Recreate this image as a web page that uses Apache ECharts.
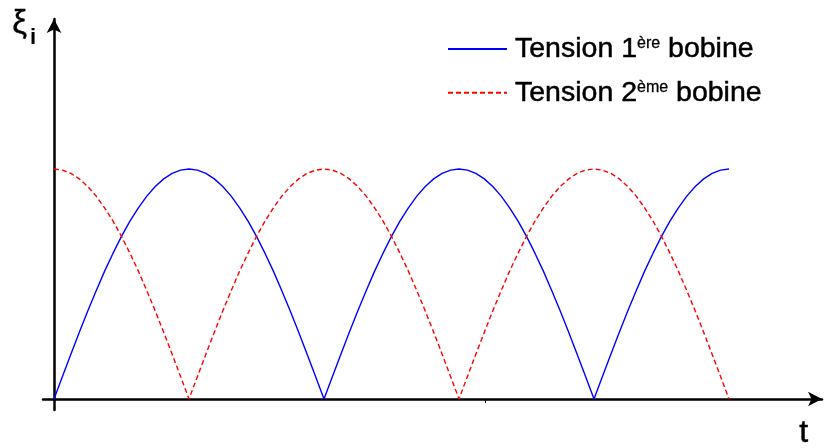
<!DOCTYPE html>
<html>
<head>
<meta charset="utf-8">
<script src="https://cdn.jsdelivr.net/npm/echarts@6/dist/echarts.min.js"></script>
<style>
  html, body { margin: 0; padding: 0; background: #fff; }
  #chart { width: 825px; height: 448px; }
</style>
</head>
<body>
<div id="chart"></div>
<script>
// Time axis in half-periods, sampled every 1/32 of a half-period
const t = [
  0, 0.03125, 0.0625, 0.09375, 0.125, 0.15625, 0.1875, 0.21875, 0.25, 0.28125, 0.3125, 0.34375, 0.375, 0.40625, 0.4375, 0.46875,
  0.5, 0.53125, 0.5625, 0.59375, 0.625, 0.65625, 0.6875, 0.71875, 0.75, 0.78125, 0.8125, 0.84375, 0.875, 0.90625, 0.9375, 0.96875,
  1, 1.03125, 1.0625, 1.09375, 1.125, 1.15625, 1.1875, 1.21875, 1.25, 1.28125, 1.3125, 1.34375, 1.375, 1.40625, 1.4375, 1.46875,
  1.5, 1.53125, 1.5625, 1.59375, 1.625, 1.65625, 1.6875, 1.71875, 1.75, 1.78125, 1.8125, 1.84375, 1.875, 1.90625, 1.9375, 1.96875,
  2, 2.03125, 2.0625, 2.09375, 2.125, 2.15625, 2.1875, 2.21875, 2.25, 2.28125, 2.3125, 2.34375, 2.375, 2.40625, 2.4375, 2.46875,
  2.5
];

// Rectified voltage of the first coil (relative to peak)
const bobine1 = [
  0, 0.098, 0.195, 0.290, 0.383, 0.471, 0.556, 0.634, 0.707, 0.773, 0.831, 0.882, 0.924, 0.957, 0.981, 0.995,
  1, 0.995, 0.981, 0.957, 0.924, 0.882, 0.831, 0.773, 0.707, 0.634, 0.556, 0.471, 0.383, 0.290, 0.195, 0.098,
  0, 0.098, 0.195, 0.290, 0.383, 0.471, 0.556, 0.634, 0.707, 0.773, 0.831, 0.882, 0.924, 0.957, 0.981, 0.995,
  1, 0.995, 0.981, 0.957, 0.924, 0.882, 0.831, 0.773, 0.707, 0.634, 0.556, 0.471, 0.383, 0.290, 0.195, 0.098,
  0, 0.098, 0.195, 0.290, 0.383, 0.471, 0.556, 0.634, 0.707, 0.773, 0.831, 0.882, 0.924, 0.957, 0.981, 0.995,
  1
];

// Rectified voltage of the second coil (relative to peak)
const bobine2 = [
  1, 0.995, 0.981, 0.957, 0.924, 0.882, 0.831, 0.773, 0.707, 0.634, 0.556, 0.471, 0.383, 0.290, 0.195, 0.098,
  0, 0.098, 0.195, 0.290, 0.383, 0.471, 0.556, 0.634, 0.707, 0.773, 0.831, 0.882, 0.924, 0.957, 0.981, 0.995,
  1, 0.995, 0.981, 0.957, 0.924, 0.882, 0.831, 0.773, 0.707, 0.634, 0.556, 0.471, 0.383, 0.290, 0.195, 0.098,
  0, 0.098, 0.195, 0.290, 0.383, 0.471, 0.556, 0.634, 0.707, 0.773, 0.831, 0.882, 0.924, 0.957, 0.981, 0.995,
  1, 0.995, 0.981, 0.957, 0.924, 0.882, 0.831, 0.773, 0.707, 0.634, 0.556, 0.471, 0.383, 0.290, 0.195, 0.098,
  0
];

const seriesNames = ['Tension 1ère bobine', 'Tension 2ème bobine'];
const legendParts = {
  'Tension 1ère bobine': ['Tension 1', 'ère', ' bobine'],
  'Tension 2ème bobine': ['Tension 2', 'ème', ' bobine']
};
const xTicks = [1.596];

const pair = (ys) => t.map((x, i) => [x, ys[i]]);

const chart = echarts.init(document.getElementById('chart'), null, { renderer: 'canvas' });
const font = '"Liberation Sans", Arial, sans-serif';

// pixel layout: origin at (54, 399), half-period = 270 px, peak = 230 px
chart.setOption({
  animation: false,
  backgroundColor: '#ffffff',
  grid: { left: 43, right: 3, top: 19, bottom: 38, containLabel: false },
  xAxis: {
    type: 'value',
    min: -11 / 270,
    max: 768 / 270,
    splitLine: { show: false },
    axisLabel: { show: false },
    axisLine: {
      onZero: true,
      symbol: ['none', 'arrow'],
      symbolSize: [11, 14],
      lineStyle: { color: '#000', width: 2.5 }
    },
    axisTick: { show: true, customValues: xTicks, length: 4, lineStyle: { color: '#000', width: 1 } }
  },
  yAxis: {
    type: 'value',
    min: -11 / 230,
    max: 380 / 230,
    splitLine: { show: false },
    axisLabel: { show: false },
    axisTick: { show: false },
    axisLine: {
      onZero: true,
      symbol: ['none', 'arrow'],
      symbolSize: [11, 14],
      lineStyle: { color: '#000', width: 2.5 }
    }
  },
  legend: {
    orient: 'vertical',
    left: 447,
    top: 33,
    padding: 0,
    itemWidth: 59,
    itemHeight: 14,
    itemGap: 13,
    itemStyle: { opacity: 0 },
    data: seriesNames,
    formatter: (name) => {
      const p = legendParts[name];
      return '{a|' + p[0] + '}{s|' + p[1] + '}{a|' + p[2] + '}';
    },
    textStyle: {
      padding: [0, 0, 0, 3],
      rich: {
        a: { fontFamily: font, fontSize: 28.5, color: '#000', lineHeight: 32, textBorderColor: '#000', textBorderWidth: 0.5 },
        s: { fontFamily: font, fontSize: 16, color: '#000', lineHeight: 32, verticalAlign: 'top', padding: [3, 0, 0, 0], textBorderColor: '#000', textBorderWidth: 0.3 }
      }
    }
  },
  series: [
    {
      name: seriesNames[0],
      type: 'line',
      data: pair(bobine1),
      symbol: 'none',
      showSymbol: false,
      lineStyle: { color: '#0000ff', width: 1.4 },
      itemStyle: { color: '#0000ff' }
    },
    {
      name: seriesNames[1],
      type: 'line',
      data: pair(bobine2),
      symbol: 'none',
      showSymbol: false,
      lineStyle: { color: '#ff0000', width: 1.4, type: [5, 3] },
      itemStyle: { color: '#ff0000' }
    }
  ],
  graphic: [
    { type: 'text', left: 12, top: 7, style: { text: 'ξ', font: '33px ' + font, fill: '#000', stroke: '#000', lineWidth: 0.4 } },
    { type: 'text', left: 30, top: 27, style: { text: 'i', font: 'bold 22px ' + font, fill: '#000' } },
    { type: 'text', left: 799, top: 417, style: { text: 't', font: '32px ' + font, fill: '#000', stroke: '#000', lineWidth: 0.5 } }
  ]
});
</script>
</body>
</html>
